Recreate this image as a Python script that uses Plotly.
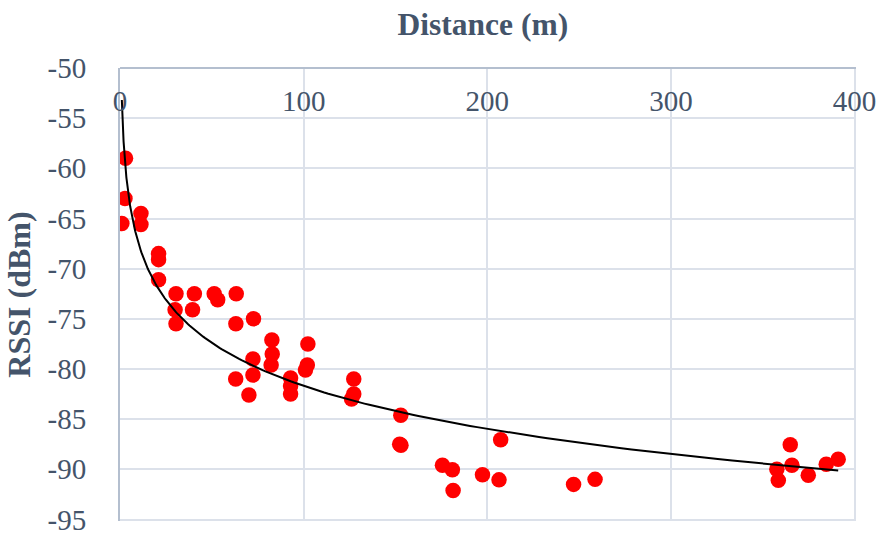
import numpy as np
import plotly.graph_objects as go

# Measured RSSI versus distance
distance_m = [1, 2.7, 3, 11.4, 11.4, 21, 21, 21, 30.5, 30, 30.5, 40.5, 39.5,
              51.3, 53.2, 63.3, 63.1, 72.7, 63, 70.2, 72.4, 72.4, 82.7, 82.9,
              82.3, 92.9, 92.9, 92.9, 102.3, 102, 101, 127.3, 127.3, 126.1,
              152.9, 152.3, 153, 175.6, 181, 181.4, 197.4, 206.4, 207.3, 247,
              258.7, 365, 357.7, 358.5, 365.9, 374.8, 384.6, 391.1]
rssi_dbm = [-65.5, -63, -59, -64.5, -65.6, -68.5, -69.1, -71.1, -72.5, -74.1,
            -75.5, -72.5, -74.1, -72.5, -73.1, -72.5, -75.5, -75, -81, -82.6,
            -79, -80.6, -77.1, -78.5, -79.6, -80.9, -81.7, -82.5, -77.5, -79.6,
            -80.1, -81, -82.5, -83, -84.6, -87.5, -87.6, -89.6, -90.05, -92.1,
            -90.55, -91.05, -87.05, -91.5, -91, -87.55, -90, -91.1, -89.6,
            -90.6, -89.5, -89]

x_ticks = [0, 100, 200, 300, 400]
y_ticks = [-50, -55, -60, -65, -70, -75, -80, -85, -90, -95]
y_tick_text = ["-50", "-55", "-60", "-65", "-70", "-75", "-80", "-85", "-90", "-95"]

# Logarithmic trend line: rssi = a*ln(d) + b
a, b = np.polyfit(np.log(distance_m), rssi_dbm, 1)
trend_x = np.geomspace(min(distance_m), max(distance_m), 300)
trend_y = a * np.log(trend_x) + b

TEXT = "#44546A"
GRID = "#DCE1EA"
AXIS = "#B4BFCF"
FONT = "Liberation Serif, Times New Roman, serif"

fig = go.Figure()
fig.add_trace(go.Scatter(
    x=distance_m, y=rssi_dbm, mode="markers",
    marker=dict(color="#FF0000", size=15.5, line=dict(width=0)),
    showlegend=False,
))
fig.add_trace(go.Scatter(
    x=trend_x, y=trend_y, mode="lines",
    line=dict(color="black", width=2),
    showlegend=False,
))

fig.update_layout(
    width=883, height=536,
    margin=dict(l=120, r=27, t=68, b=15),
    paper_bgcolor="white", plot_bgcolor="white",
    font=dict(family=FONT, color=TEXT, size=29),
    title=dict(text="<b>Distance (m)</b>", x=0.493, xref="paper",
               y=0.955, yref="container", xanchor="center", yanchor="middle",
               font=dict(family=FONT, size=31.5, color=TEXT)),
    xaxis=dict(
        # small pad past 400 so the last gridline is kept at the edge
        range=[0, 400.8], tickvals=x_ticks, side="bottom",
        anchor="free", position=1, automargin=False,
        showline=True, linecolor=AXIS, linewidth=2,
        showgrid=True, gridcolor=GRID, gridwidth=2,
        zeroline=False, ticks="", ticklabelstandoff=7,
        ticklabeloverflow="allow",
        tickfont=dict(family=FONT, size=29, color=TEXT),
    ),
    yaxis=dict(
        range=[-95.15, -50], tickvals=y_ticks, ticktext=y_tick_text,
        domain=[0, 1], automargin=False,
        showline=True, linecolor=AXIS, linewidth=2,
        showgrid=True, gridcolor=GRID, gridwidth=2,
        zeroline=False, ticks="", ticklabelstandoff=26,
        ticklabeloverflow="allow",
        tickfont=dict(family=FONT, size=29, color=TEXT),
        title=dict(text="<b>RSSI (dBm)</b>", standoff=7,
                   font=dict(family=FONT, size=32, color=TEXT)),
    ),
)

fig.write_html("out.html")
